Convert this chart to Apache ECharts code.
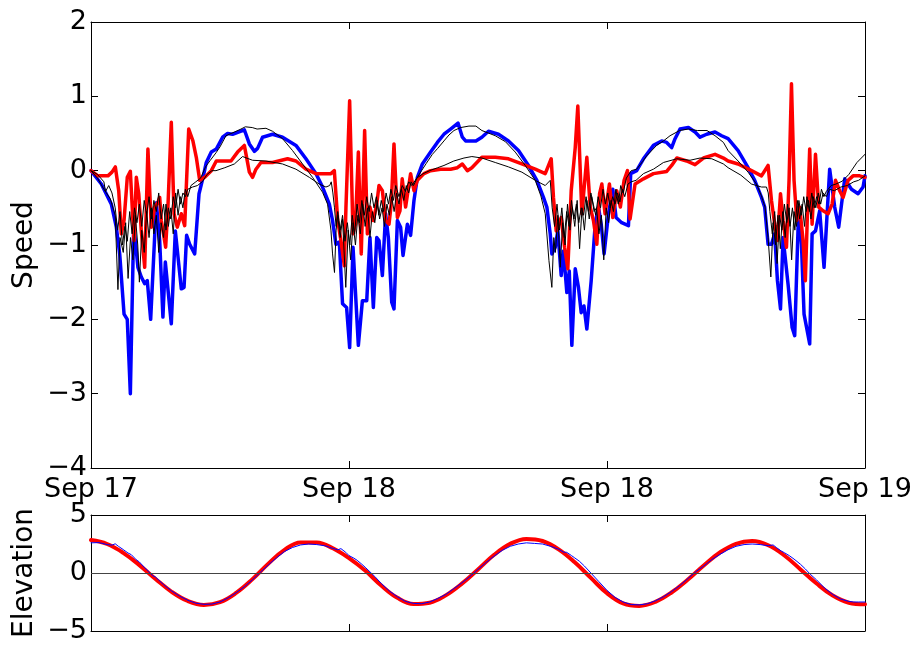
<!DOCTYPE html>
<html>
<head>
<meta charset="utf-8">
<script src="https://cdn.jsdelivr.net/npm/echarts@6/dist/echarts.min.js"></script>
<style>
  html, body { margin: 0; padding: 0; background: #fff; }
  #chart { width: 920px; height: 646px; }
</style>
</head>
<body>
<div id="chart"></div>
<script>
// Time is in hours from the start of the record (48 h shown).
const tickHours = [0, 16, 32, 48];
const tickLabels = ['Sep 17', 'Sep 18', 'Sep 18', 'Sep 19'];

// Speed, thick blue record: [hour, speed]
const speedBlue = [[0,0.0],[0.64,-0.18],[1.26,-0.45],[1.57,-0.76],[1.78,-1.12],[2.05,-1.93],[2.25,-2.0],[2.44,-3.0],[2.65,-0.72],[2.91,-1.3],[3.12,-1.43],[3.33,-1.52],[3.49,-1.48],[3.7,-2.0],[4.05,-0.43],[4.26,-0.94],[4.46,-1.97],[4.61,-1.23],[4.98,-2.06],[5.23,-0.81],[5.6,-1.59],[5.77,-1.57],[5.93,-0.87],[6.12,-0.99],[6.43,-1.12],[6.7,-0.31],[6.95,-0.09],[7.15,0.11],[7.46,0.25],[7.77,0.29],[8.16,0.45],[8.47,0.5],[8.78,0.49],[9.51,0.55],[9.82,0.36],[10.13,0.26],[10.33,0.3],[10.64,0.45],[11.26,0.49],[11.88,0.45],[12.71,0.34],[13.33,0.16],[13.95,-0.04],[14.36,-0.22],[14.78,-0.45],[14.98,-0.67],[15.19,-0.99],[15.4,-0.96],[15.6,-1.79],[15.85,-1.84],[16.04,-2.38],[16.25,-1.03],[16.58,-2.35],[16.83,-1.75],[17.1,-1.75],[17.3,-0.9],[17.51,-1.84],[17.72,-0.9],[17.86,-0.94],[18.07,-1.41],[18.27,-0.58],[18.44,-0.9],[18.65,-1.77],[18.79,-1.86],[19.0,-0.67],[19.2,-0.76],[19.35,-1.14],[19.62,-0.72],[19.82,-0.87],[20.03,-0.4],[20.24,-0.09],[20.55,0.09],[21.06,0.25],[21.48,0.38],[21.89,0.49],[22.3,0.56],[22.76,0.64],[23.03,0.45],[23.23,0.4],[23.87,0.4],[24.24,0.45],[24.65,0.53],[25.27,0.49],[25.89,0.4],[26.51,0.27],[27.13,0.07],[27.65,-0.13],[28.06,-0.36],[28.27,-0.49],[28.48,-0.85],[28.58,-1.12],[28.79,-1.03],[28.95,-0.81],[29.16,-1.41],[29.3,-1.08],[29.51,-1.64],[29.66,-1.35],[29.82,-2.35],[30.03,-1.32],[30.23,-1.57],[30.4,-1.91],[30.57,-1.82],[30.75,-2.13],[31.02,-1.48],[31.27,-0.72],[31.47,-0.49],[31.64,-0.72],[31.82,-1.12],[32.09,-0.58],[32.36,-0.25],[32.56,-0.63],[32.91,-0.7],[33.33,-0.74],[33.47,-0.04],[33.84,0.0],[34.26,0.16],[34.88,0.34],[35.39,0.4],[35.7,0.38],[36.01,0.31],[36.22,0.43],[36.53,0.56],[37.05,0.58],[37.46,0.52],[37.77,0.45],[38.18,0.49],[38.7,0.52],[39.11,0.47],[39.51,0.43],[40.13,0.27],[40.75,0.04],[41.16,-0.13],[41.58,-0.36],[41.78,-0.49],[41.99,-0.99],[42.2,-0.99],[42.4,-0.85],[42.57,-1.48],[42.76,-1.86],[42.92,-0.9],[43.23,-1.53],[43.48,-2.11],[43.64,-2.22],[43.89,-0.49],[44.06,-0.99],[44.22,-1.93],[44.57,-2.33],[44.72,-0.85],[44.93,-0.81],[45.19,-0.54],[45.46,-1.3],[45.81,0.02],[46.12,-0.49],[46.37,-0.76],[46.74,-0.11],[47.16,-0.25],[47.57,-0.31],[47.88,-0.22],[48,-0.07]];

// Speed, thick red record: [hour, speed]
const speedRed = [[0,0],[0.43,-0.07],[1.05,-0.07],[1.3,-0.02],[1.51,0.05],[1.72,-0.27],[1.88,-0.85],[2.05,-0.67],[2.25,-0.09],[2.44,-0.01],[2.6,-0.67],[2.67,-0.94],[2.81,-0.09],[2.96,-0.31],[3.12,-0.81],[3.33,-1.3],[3.53,0.29],[3.74,-0.76],[3.95,-0.49],[4.15,-0.43],[4.26,-0.36],[4.36,-0.67],[4.63,-1.03],[4.77,-0.49],[4.98,0.65],[5.15,-0.58],[5.35,-0.76],[5.6,-0.58],[5.81,-0.74],[6.06,0.56],[6.32,0.4],[6.53,0.18],[6.74,-0.13],[7.05,-0.09],[7.46,0.0],[7.77,0.13],[8.2,0.13],[8.68,0.13],[9.09,0.25],[9.51,0.34],[9.82,-0.02],[10.02,-0.09],[10.23,0.02],[10.54,0.11],[11.26,0.11],[12.19,0.16],[12.71,0.13],[13.33,0.02],[13.95,-0.04],[14.88,-0.04],[15.09,0.0],[15.3,-0.67],[15.5,-0.94],[15.71,-1.28],[15.81,-0.5],[16.04,0.94],[16.25,-0.85],[16.4,-0.72],[16.58,0.25],[16.76,-1.12],[16.97,0.54],[17.14,-0.85],[17.3,-0.49],[17.51,-0.67],[17.72,-0.45],[17.86,-0.2],[18.07,-0.27],[18.27,-0.67],[18.48,-0.72],[18.62,-0.45],[18.79,0.36],[19.0,-0.63],[19.16,-0.54],[19.3,-0.11],[19.51,-0.49],[19.82,-0.04],[20.03,-0.27],[20.24,-0.13],[20.65,-0.04],[21.06,0.0],[21.68,0.02],[22.3,0.02],[22.72,0.04],[23.03,0.09],[23.34,0.0],[23.62,0.04],[24.24,0.18],[25.07,0.18],[25.89,0.16],[26.72,0.09],[27.55,0.02],[28.17,-0.04],[28.54,0.16],[28.68,-0.36],[28.85,-0.81],[29.16,-0.63],[29.37,-1.03],[29.57,-1.32],[29.78,-0.27],[30.03,0.31],[30.19,0.87],[30.44,-0.58],[30.75,0.18],[30.96,-0.49],[31.16,-0.67],[31.37,-0.99],[31.54,-0.31],[31.68,-0.18],[31.88,-0.58],[32.15,-0.18],[32.36,-0.63],[32.6,-0.27],[32.83,-0.49],[33.06,-0.13],[33.27,0.0],[33.43,-0.65],[33.74,-0.18],[34.26,-0.11],[34.88,-0.04],[35.7,-0.01],[36.01,0.07],[36.33,0.17],[36.94,0.13],[37.46,0.08],[37.98,0.17],[38.7,0.22],[39.22,0.17],[39.51,0.13],[40.13,0.09],[40.96,0.0],[41.58,-0.07],[41.99,0.07],[42.2,-0.4],[42.4,-0.72],[42.57,-0.94],[42.76,-0.31],[42.92,-0.67],[43.13,-1.03],[43.29,-0.13],[43.44,1.17],[43.6,-0.13],[43.77,-0.67],[43.95,-0.49],[44.16,-0.94],[44.3,-1.48],[44.43,-0.58],[44.57,0.29],[44.72,-0.72],[44.93,0.22],[45.13,-0.49],[45.4,-0.54],[45.71,-0.58],[45.96,-0.45],[46.17,-0.13],[46.43,-0.27],[46.64,-0.36],[46.95,-0.13],[47.26,-0.07],[47.67,-0.07],[48,-0.09]];

// Speed, thin black record following the blue one: [hour, speed]
const speedBlackA = [[0,0.0],[0.4,-0.1],[0.8,-0.25],[1.2,-0.38],[1.5,-0.6],[1.67,-1.6],[1.8,-0.9],[2.0,-1.1],[2.15,-0.7],[2.3,-1.45],[2.45,-0.9],[2.6,-1.2],[2.75,-0.6],[2.9,-1.0],[3.0,-1.5],[3.15,-0.8],[3.3,-1.1],[3.45,-0.55],[3.6,-0.9],[3.75,-0.5],[3.9,-0.85],[4.05,-0.6],[4.2,-1.1],[4.35,-0.7],[4.5,-0.9],[4.65,-0.45],[4.8,-0.75],[4.95,-0.5],[5.1,-0.85],[5.25,-0.3],[5.4,-0.6],[5.55,-0.35],[5.7,-0.5],[5.85,-0.25],[6.0,-0.35],[6.2,-0.2],[6.5,-0.15],[6.8,-0.1],[7.1,0.05],[7.4,0.14],[7.75,0.24],[8.0,0.32],[8.37,0.47],[8.9,0.52],[9.3,0.56],[9.57,0.59],[10.0,0.58],[10.3,0.56],[10.85,0.57],[11.26,0.53],[11.88,0.43],[12.5,0.27],[13.12,0.09],[13.74,-0.09],[14.36,-0.29],[14.67,-0.45],[14.88,-0.8],[14.98,-1.12],[15.1,-1.37],[15.2,-0.8],[15.3,-0.6],[15.45,-0.9],[15.6,-0.65],[15.8,-1.57],[15.95,-0.8],[16.1,-1.2],[16.25,-0.7],[16.4,-1.0],[16.55,-0.6],[16.7,-0.85],[16.85,-0.45],[17.0,-0.75],[17.15,-0.5],[17.3,-0.9],[17.45,-0.55],[17.6,-0.7],[17.75,-0.4],[17.9,-0.65],[18.05,-0.5],[18.2,-0.75],[18.35,-0.45],[18.5,-0.6],[18.65,-0.35],[18.8,-0.55],[18.95,-0.3],[19.1,-0.45],[19.25,-0.25],[19.4,-0.4],[19.55,-0.2],[19.7,-0.3],[19.85,-0.15],[20.0,-0.2],[20.24,-0.09],[20.5,0.0],[20.8,0.1],[21.17,0.22],[21.5,0.3],[21.89,0.4],[22.2,0.48],[22.51,0.54],[22.92,0.58],[23.44,0.6],[23.87,0.6],[24.24,0.54],[25.07,0.47],[25.7,0.39],[26.31,0.25],[26.93,0.07],[27.55,-0.13],[27.9,-0.34],[28.17,-0.58],[28.4,-1.21],[28.58,-1.57],[28.7,-0.9],[28.8,-1.1],[28.95,-0.6],[29.1,-1.3],[29.25,-0.7],[29.4,-1.0],[29.55,-0.45],[29.7,-0.8],[29.85,-0.5],[30.0,-0.75],[30.15,-0.4],[30.3,-1.05],[30.45,-0.5],[30.6,-0.8],[30.75,-0.4],[30.9,-0.65],[31.05,-0.35],[31.2,-0.55],[31.35,-0.5],[31.5,-0.85],[31.65,-0.6],[31.8,-1.2],[31.95,-0.5],[32.1,-0.7],[32.25,-0.4],[32.4,-0.55],[32.55,-0.25],[32.7,-0.45],[32.85,-0.2],[33.0,-0.3],[33.2,-0.1],[33.5,0.0],[33.84,0.02],[34.2,0.12],[34.46,0.2],[35.08,0.34],[35.5,0.4],[35.91,0.47],[36.5,0.54],[37.05,0.56],[37.6,0.54],[38.2,0.54],[38.7,0.47],[39.22,0.38],[39.51,0.27],[40.13,0.13],[40.75,-0.02],[41.27,-0.18],[41.58,-0.34],[41.8,-0.49],[41.99,-0.9],[42.16,-1.43],[42.3,-0.7],[42.45,-1.0],[42.6,-0.6],[42.75,-1.05],[42.9,-0.55],[43.05,-0.9],[43.2,-0.45],[43.35,-0.75],[43.5,-0.5],[43.65,-0.8],[43.8,-0.4],[43.95,-0.65],[44.1,-0.45],[44.25,-0.75],[44.4,-0.35],[44.55,-0.55],[44.7,-0.3],[44.85,-0.5],[45.0,-0.35],[45.15,-0.45],[45.3,-0.25],[45.45,-0.35],[45.6,-0.28],[45.9,-0.2],[46.2,-0.18],[46.6,-0.14],[47.0,-0.05],[47.5,0.11],[48,0.22]];

// Speed, thin black record following the red one: [hour, speed]
const speedBlackB = [[0,0.0],[0.4,-0.05],[0.8,-0.15],[0.9,-0.28],[1.1,-0.2],[1.3,-0.3],[1.5,-0.5],[1.65,-0.8],[1.8,-0.55],[1.95,-1.0],[2.1,-0.75],[2.25,-0.95],[2.4,-0.55],[2.55,-0.85],[2.7,-0.5],[2.85,-0.7],[3.0,-0.45],[3.15,-0.75],[3.3,-0.4],[3.45,-0.6],[3.6,-0.35],[3.75,-0.65],[3.9,-0.4],[4.05,-0.55],[4.2,-0.3],[4.35,-0.65],[4.5,-0.45],[4.65,-0.8],[4.8,-0.5],[4.95,-0.65],[5.1,-0.35],[5.25,-0.5],[5.4,-0.25],[5.55,-0.45],[5.7,-0.3],[5.85,-0.35],[6.0,-0.25],[6.3,-0.22],[6.6,-0.2],[6.9,-0.15],[7.2,-0.05],[7.5,0.0],[7.75,0.0],[8.3,0.04],[8.89,0.09],[9.4,0.19],[10.02,0.14],[10.85,0.13],[11.88,0.09],[12.71,0.02],[13.54,-0.09],[14.15,-0.18],[14.57,-0.22],[14.8,-0.2],[14.9,-0.15],[15.0,-0.3],[15.1,-0.5],[15.2,-0.75],[15.3,-0.55],[15.45,-0.8],[15.6,-0.6],[15.75,-0.95],[15.9,-0.7],[16.05,-1.0],[16.2,-0.6],[16.35,-0.85],[16.5,-0.45],[16.65,-0.7],[16.8,-0.4],[16.95,-0.6],[17.1,-0.35],[17.25,-0.55],[17.4,-0.3],[17.55,-0.5],[17.7,-0.35],[17.85,-0.6],[18.0,-0.4],[18.15,-0.55],[18.3,-0.3],[18.45,-0.45],[18.6,-0.25],[18.75,-0.4],[18.9,-0.2],[19.1,-0.35],[19.3,-0.2],[19.5,-0.28],[19.7,-0.15],[19.9,-0.2],[20.2,-0.1],[20.6,-0.04],[21.0,0.0],[21.5,0.04],[21.89,0.07],[22.5,0.13],[23.13,0.17],[23.62,0.19],[24.24,0.17],[25.07,0.11],[25.9,0.05],[26.72,-0.02],[27.55,-0.13],[28.17,-0.2],[28.48,-0.13],[28.6,-0.5],[28.75,-0.75],[28.9,-0.45],[29.05,-0.8],[29.2,-0.5],[29.35,-0.9],[29.5,-0.55],[29.65,-0.75],[29.8,-0.4],[29.95,-0.65],[30.1,-0.45],[30.25,-0.7],[30.4,-0.5],[30.55,-0.6],[30.7,-0.35],[30.85,-0.55],[31.0,-0.3],[31.15,-0.45],[31.3,-0.6],[31.45,-0.35],[31.6,-0.5],[31.75,-0.25],[31.9,-0.45],[32.05,-0.3],[32.2,-0.5],[32.35,-0.35],[32.5,-0.45],[32.65,-0.3],[32.8,-0.42],[32.95,-0.25],[33.1,-0.35],[33.3,-0.18],[33.5,-0.15],[33.8,-0.13],[34.26,-0.04],[34.88,0.02],[35.5,0.11],[36.33,0.16],[37.15,0.14],[37.77,0.17],[38.5,0.16],[39.22,0.09],[39.51,0.04],[40.3,-0.06],[40.96,-0.18],[41.58,-0.22],[41.89,-0.22],[42.0,-0.3],[42.1,-0.55],[42.25,-0.85],[42.4,-0.55],[42.55,-1.25],[42.7,-0.6],[42.85,-0.8],[43.0,-0.45],[43.15,-0.7],[43.3,-0.5],[43.45,-1.2],[43.6,-0.55],[43.75,-0.75],[43.9,-0.4],[44.05,-0.6],[44.2,-0.35],[44.35,-0.55],[44.5,-0.4],[44.65,-0.65],[44.8,-0.35],[44.95,-0.5],[45.1,-0.3],[45.25,-0.45],[45.4,-0.3],[45.6,-0.35],[45.8,-0.25],[46.1,-0.27],[46.5,-0.22],[46.9,-0.2],[47.3,-0.15],[47.6,-0.13],[48,-0.07]];

// Elevation, thick red record, one value per hour from hour 0 to 48
const elevRedHourly = [2.84,2.5,1.74,0.68,-0.51,-1.62,-2.41,-2.75,-2.52,-1.72,-0.55,0.81,2.0,2.64,2.62,2.13,1.28,0.21,-1.08,-2.14,-2.67,-2.56,-1.93,-0.92,0.31,1.57,2.52,2.94,2.76,2.04,0.92,-0.42,-1.74,-2.62,-2.84,-2.49,-1.68,-0.58,0.65,1.77,2.52,2.75,2.39,1.51,0.31,-0.91,-1.94,-2.56,-2.7];

// Elevation, thin blue record: [hour, elevation]
const elevBlue = [[0,2.6],[0.5,2.62],[1.0,2.45],[1.3,2.4],[1.5,2.52],[1.7,2.3],[2.0,2.02],[2.3,1.72],[2.5,1.58],[2.8,1.15],[3.0,0.95],[3.3,0.5],[3.6,0.1],[3.8,-0.2],[4.0,-0.35],[4.5,-1.0],[5.0,-1.55],[5.5,-2.0],[6.0,-2.35],[6.5,-2.6],[7.0,-2.7],[7.5,-2.68],[8.0,-2.5],[8.5,-2.15],[9.0,-1.7],[9.5,-1.2],[10.0,-0.6],[10.5,0.05],[11.0,0.7],[11.5,1.3],[12.0,1.85],[12.5,2.2],[13.0,2.42],[13.5,2.5],[14.0,2.45],[14.5,2.35],[15.0,2.12],[15.3,2.0],[15.5,2.1],[15.8,1.78],[16.0,1.5],[16.3,1.28],[16.5,1.1],[16.8,0.75],[17.0,0.5],[17.3,0.1],[17.6,-0.3],[18.0,-0.9],[18.5,-1.55],[19.0,-2.05],[19.5,-2.45],[20.0,-2.62],[20.5,-2.65],[21.0,-2.5],[21.5,-2.2],[22.0,-1.85],[22.5,-1.35],[23.0,-0.85],[23.5,-0.3],[24.0,0.3],[24.5,0.9],[25.0,1.45],[25.5,1.95],[26.0,2.3],[26.5,2.5],[27.0,2.6],[27.5,2.55],[28.0,2.5],[28.5,2.3],[29.0,2.05],[29.3,1.8],[29.5,1.78],[29.8,1.5],[30.0,1.3],[30.3,1.0],[30.6,0.6],[31.0,0.0],[31.5,-0.75],[32.0,-1.5],[32.5,-2.1],[33.0,-2.5],[33.5,-2.72],[34.0,-2.75],[34.5,-2.65],[35.0,-2.4],[35.5,-2.05],[36.0,-1.6],[36.5,-1.1],[37.0,-0.5],[37.5,0.1],[38.0,0.6],[38.5,1.15],[39.0,1.6],[39.5,2.0],[40.0,2.3],[40.5,2.45],[41.0,2.5],[41.5,2.45],[42.0,2.35],[42.3,2.42],[42.5,2.2],[42.8,1.9],[43.0,1.75],[43.3,1.5],[43.6,1.2],[44.0,0.75],[44.3,0.35],[44.6,-0.1],[45.0,-0.6],[45.5,-1.3],[46.0,-1.85],[46.5,-2.25],[47.0,-2.45],[47.3,-2.5],[47.6,-2.5],[48,-2.5]];

const elevRed = elevRedHourly.map((v, i) => [i, v]);

const FONT = 'DejaVu Sans';
const minus = v => (v < 0 ? '\u2212' + Math.abs(v) : String(v));

function xAxisFor(gridIndex, position, showLabels) {
  return {
    type: 'value', gridIndex, position,
    min: tickHours[0], max: tickHours[tickHours.length - 1], interval: 16,
    axisLine: { show: true, onZero: false, lineStyle: { color: '#000', width: 1 } },
    axisTick: { show: true, inside: true, length: 7, lineStyle: { color: '#000' } },
    axisLabel: {
      show: showLabels, color: '#000', fontFamily: FONT, fontSize: 27, margin: 8,
      showMinLabel: true, showMaxLabel: true,
      formatter: v => tickLabels[tickHours.indexOf(Math.round(v))] || ''
    },
    splitLine: { show: false }
  };
}

function yAxisFor(gridIndex, position, min, max, interval, name, showLabels) {
  return {
    type: 'value', gridIndex, position, min, max, interval,
    name: name || '', nameLocation: 'middle', nameGap: 52, nameMoveOverlap: false,
    nameTextStyle: { color: '#000', fontFamily: FONT, fontSize: 28 },
    axisLine: { show: true, onZero: false, lineStyle: { color: '#000', width: 1 } },
    axisTick: { show: true, inside: true, length: 7, lineStyle: { color: '#000' } },
    axisLabel: {
      show: showLabels, color: '#000', fontFamily: FONT, fontSize: 27, margin: 4,
      showMinLabel: true, showMaxLabel: true, formatter: minus
    },
    splitLine: { show: false }
  };
}

function lineSeries(xi, yi, data, color, width, z) {
  return {
    type: 'line', xAxisIndex: xi, yAxisIndex: yi, data,
    showSymbol: false, symbol: 'none', clip: true, z,
    lineStyle: { color, width, join: 'round', cap: 'round' },
    emphasis: { disabled: true }
  };
}

const chart = echarts.init(document.getElementById('chart'), null, { renderer: 'canvas' });
chart.setOption({
  animation: false,
  backgroundColor: '#fff',
  grid: [
    { left: 91, right: 55, top: 22, height: 446 },
    { left: 91, right: 55, top: 515, height: 116 }
  ],
  xAxis: [
    xAxisFor(0, 'bottom', true),
    xAxisFor(0, 'top', false),
    xAxisFor(1, 'bottom', false),
    xAxisFor(1, 'top', false)
  ],
  yAxis: [
    yAxisFor(0, 'left', -4, 2, 1, 'Speed', true),
    yAxisFor(0, 'right', -4, 2, 1, '', false),
    yAxisFor(1, 'left', -5, 5, 5, 'Elevation', true),
    yAxisFor(1, 'right', -5, 5, 5, '', false)
  ],
  series: [
    lineSeries(0, 0, speedBlue, '#0000ff', 3.5, 2),
    lineSeries(0, 0, speedRed, '#ff0000', 3.5, 3),
    lineSeries(0, 0, speedBlackA, '#000000', 1, 4),
    lineSeries(0, 0, speedBlackB, '#000000', 1, 4),
    Object.assign(lineSeries(2, 2, elevRed, '#ff0000', 4, 3), { smooth: 0.4 }),
    Object.assign(lineSeries(2, 2, elevBlue, '#0000ff', 1, 4), {
      markLine: {
        silent: true, symbol: 'none', label: { show: false },
        lineStyle: { color: '#444', width: 1.2, type: 'solid' },
        data: [{ yAxis: 0 }]
      }
    })
  ]
});
</script>
</body>
</html>
